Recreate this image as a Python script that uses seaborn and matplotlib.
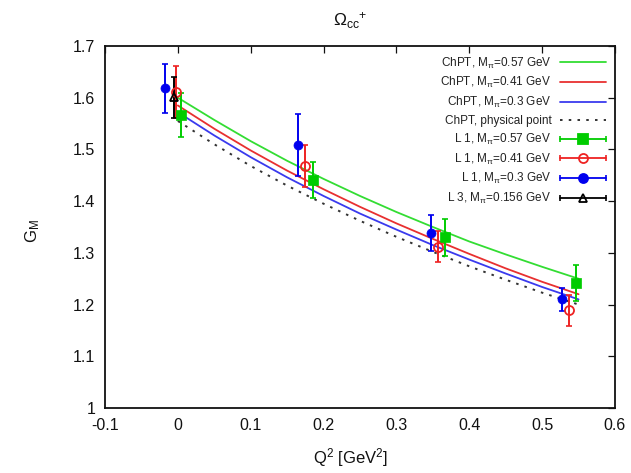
import numpy as np
import pandas as pd
import matplotlib
matplotlib.use("Agg")
import matplotlib.pyplot as plt
import seaborn as sns
from matplotlib.lines import Line2D
from matplotlib.legend_handler import HandlerBase
from matplotlib.ticker import FuncFormatter, FixedLocator

# ---------------- data ----------------
q_curve = [0.0, 0.05, 0.10, 0.15, 0.20, 0.25, 0.30, 0.35, 0.40, 0.45, 0.50, 0.55]
chpt_057 = [1.600, 1.557, 1.516, 1.478, 1.443, 1.410, 1.379, 1.350, 1.322, 1.297, 1.273, 1.250]
chpt_041 = [1.585, 1.540, 1.498, 1.459, 1.423, 1.389, 1.357, 1.327, 1.298, 1.270, 1.244, 1.220]
chpt_030 = [1.572, 1.527, 1.485, 1.446, 1.410, 1.376, 1.345, 1.315, 1.287, 1.260, 1.234, 1.210]
chpt_phys = [1.555, 1.510, 1.468, 1.430, 1.395, 1.362, 1.331, 1.302, 1.274, 1.248, 1.223, 1.200]

l1_057_q = [0.004, 0.186, 0.366, 0.547]
l1_057_g = [1.567, 1.441, 1.330, 1.241]
l1_057_e = [0.043, 0.035, 0.036, 0.035]

l1_041_q = [-0.003, 0.175, 0.357, 0.537]
l1_041_g = [1.611, 1.468, 1.312, 1.189]
l1_041_e = [0.050, 0.040, 0.030, 0.030]

l1_030_q = [-0.017, 0.165, 0.348, 0.527]
l1_030_g = [1.618, 1.508, 1.339, 1.210]
l1_030_e = [0.048, 0.060, 0.035, 0.023]

l3_0156_q = [-0.005]
l3_0156_g = [1.601]
l3_0156_e = [0.040]

x_ticks = [-0.1, 0.0, 0.1, 0.2, 0.3, 0.4, 0.5, 0.6]
y_ticks = [1.0, 1.1, 1.2, 1.3, 1.4, 1.5, 1.6, 1.7]

curve_labels = ["ChPT, M$_{\\pi}$=0.57 GeV", "ChPT, M$_{\\pi}$=0.41 GeV",
                "ChPT, M$_{\\pi}$=0.3 GeV", "ChPT, physical point"]
point_labels = ["L 1, M$_{\\pi}$=0.57 GeV", "L 1, M$_{\\pi}$=0.41 GeV",
                "L 1, M$_{\\pi}$=0.3 GeV", "L 3, M$_{\\pi}$=0.156 GeV"]

# ---------------- style ----------------
sns.set_theme(style="white")
plt.rcParams["font.family"] = ["Liberation Sans", "DejaVu Sans"]
plt.rcParams["mathtext.fontset"] = "custom"
plt.rcParams["mathtext.rm"] = "Liberation Sans"
plt.rcParams["mathtext.it"] = "Liberation Sans"
plt.rcParams["mathtext.bf"] = "Liberation Sans:bold"

GREEN_L, RED_L, BLUE_L = "#33dd33", "#e83030", "#3a3aee"
GREEN_P, RED_P, BLUE_P, BLACK_P = "#00cc00", "#ee2222", "#0000ee", "#000000"

fig = plt.figure(figsize=(6.31, 4.73), dpi=100)
ax = fig.add_axes([105 / 631, 1 - 408 / 473, 510 / 631, 362 / 473])

curves = pd.DataFrame({"q": q_curve * 4,
                       "g": chpt_057 + chpt_041 + chpt_030 + chpt_phys,
                       "s": [0] * 12 + [1] * 12 + [2] * 12 + [3] * 12})
sns.lineplot(data=curves[curves.s == 0], x="q", y="g", color=GREEN_L, lw=1.3, ax=ax, estimator=None)
sns.lineplot(data=curves[curves.s == 1], x="q", y="g", color=RED_L, lw=1.3, ax=ax, estimator=None)
sns.lineplot(data=curves[curves.s == 2], x="q", y="g", color=BLUE_L, lw=1.3, ax=ax, estimator=None)
sns.lineplot(data=curves[curves.s == 3], x="q", y="g", color="#333333", lw=1.4, ax=ax,
             estimator=None, linestyle=(0, (1.3, 3.2)))

point_sets = [
    (l1_057_q, l1_057_g, l1_057_e, GREEN_P, "s", 7.0, GREEN_P),
    (l1_041_q, l1_041_g, l1_041_e, RED_P, "o", 6.5, "none"),
    (l1_030_q, l1_030_g, l1_030_e, BLUE_P, "o", 6.5, BLUE_P),
    (l3_0156_q, l3_0156_g, l3_0156_e, BLACK_P, "^", 6.0, "none"),
]
for q, g, e, c, m, ms, fc in point_sets:
    ax.errorbar(q, g, yerr=e, fmt="none", ecolor=c, elinewidth=1.4, capsize=2.5, capthick=1.2, zorder=3)
    df = pd.DataFrame({"q": q, "g": g})
    if fc == "none":
        ax.plot(q, g, ls="none", marker=m, ms=ms, mfc="none", mec=c, mew=1.3, zorder=4)
    else:
        sns.scatterplot(data=df, x="q", y="g", marker=m, s=ms ** 2, color=c, edgecolor=c,
                        linewidth=0.5, ax=ax, zorder=4)

# ---------------- axes ----------------
ax.set_xlim(-0.1, 0.6)
ax.set_ylim(1.0, 1.7)
ax.xaxis.set_major_locator(FixedLocator(x_ticks))
ax.yaxis.set_major_locator(FixedLocator(y_ticks))
fmt = FuncFormatter(lambda v, _: "0" if abs(v) < 1e-9 else f"{v:g}")
ax.xaxis.set_major_formatter(fmt)
ax.yaxis.set_major_formatter(fmt)
ax.tick_params(direction="in", top=True, right=True, length=5, width=0.9,
               labelsize=11.5, colors="#111111", pad=7)
for sp in ax.spines.values():
    sp.set_color("#111111")
    sp.set_linewidth(1.3)

ax.set_xlabel("Q$^2$ [GeV$^2$]", fontsize=12, color="#111111")
ax.set_ylabel("G$_M$", fontsize=12, color="#111111")
ax.xaxis.set_label_coords((350 - 105) / 510, -(446 - 408) / 362)
ax.yaxis.set_label_coords((42 - 105) / 510, 0.49)
fig.text(350 / 631, 1 - 21 / 473, "$\\Omega_{\\mathrm{cc}}{}^{+}$", ha="center", va="center",
         fontsize=12.5, color="#111111")

# ---------------- legend ----------------
class PtProxy(Line2D):
    pass


class GPHandler(HandlerBase):
    def create_artists(self, legend, orig_handle, xdescent, ydescent, width, height, fontsize, trans):
        y = (height - ydescent) / 2.0
        x0, x1 = -xdescent, width - xdescent
        c = orig_handle.get_color()
        a1 = Line2D([x0, x1], [y, y], color=c, lw=1.3)
        a2 = Line2D([x0, x1], [y, y], ls="none", marker="|", ms=5, mew=1.2, color=c)
        a3 = Line2D([(x0 + x1) / 2], [y], ls="none", marker=orig_handle.get_marker(),
                    ms=orig_handle.get_markersize(), mfc=orig_handle.get_markerfacecolor(),
                    mec=orig_handle.get_markeredgecolor(), mew=1.3)
        for a in (a1, a2, a3):
            a.set_transform(trans)
        return [a1, a2, a3]


handles = [Line2D([], [], color=GREEN_L, lw=1.3),
           Line2D([], [], color=RED_L, lw=1.3),
           Line2D([], [], color=BLUE_L, lw=1.3),
           Line2D([], [], color="#333333", lw=1.4, ls=(0, (1.3, 3.2)))]
for q, g, e, c, m, ms, fc in point_sets:
    handles.append(PtProxy([], [], color=c, marker=m, ms=ms, mfc=fc, mec=c))

ax.legend(handles, curve_labels + point_labels, loc="upper right", frameon=False,
          markerfirst=False, fontsize=8.5, handlelength=3.9, labelspacing=0.4,
          handletextpad=0.7, borderaxespad=0.4, handler_map={PtProxy: GPHandler()},
          labelcolor="#222222")

fig.savefig("out.png", dpi=100)
